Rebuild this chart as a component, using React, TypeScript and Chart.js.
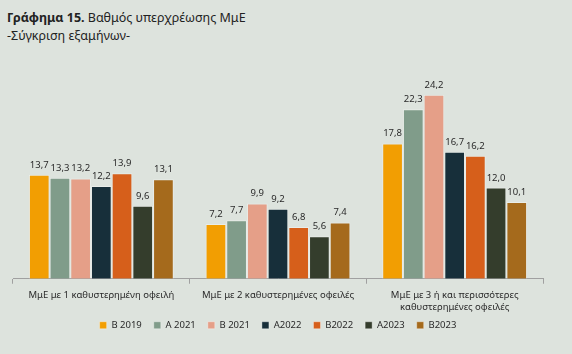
import React, { useEffect, useRef } from "react";
import { Chart, registerables } from "chart.js";

Chart.register(...registerables);

const categories: (string | string[])[] = [
  "ΜμΕ με 1 καθυστερημένη οφειλή",
  "ΜμΕ με 2 καθυστερημένες οφειλές",
  ["ΜμΕ με 3 ή και περισσότερες", "καθυστερημένες οφειλές"],
];

const seriesNames = ["Β 2019", "Α 2021", "Β 2021", "Α2022", "Β2022", "Α2023", "Β2023"];
const seriesColors = ["#f29e02", "#809c8a", "#e59f88", "#172f3a", "#d65f1b", "#343d2c", "#a56a1c"];

const b2019 = [13.7, 7.2, 17.8];
const a2021 = [13.3, 7.7, 22.3];
const b2021 = [13.2, 9.9, 24.2];
const a2022 = [12.2, 9.2, 16.7];
const b2022 = [13.9, 6.8, 16.2];
const a2023 = [9.6, 5.6, 12.0];
const b2023 = [13.1, 7.4, 10.1];

const seriesValues = [b2019, a2021, b2021, a2022, b2022, a2023, b2023];

const FONT = "'Noto Sans', sans-serif";
const BG = "#dde3dd";

const valueLabels = {
  id: "valueLabels",
  afterDatasetsDraw(chart: any) {
    const ctx = chart.ctx;
    ctx.save();
    ctx.font = `9.5px ${FONT}`;
    ctx.fillStyle = "#2a2a2a";
    ctx.textAlign = "center";
    ctx.textBaseline = "bottom";
    chart.data.datasets.forEach((ds: any, i: number) => {
      const meta = chart.getDatasetMeta(i);
      meta.data.forEach((bar: any, j: number) => {
        const v = ds.data[j] as number;
        ctx.fillText(v.toFixed(1).replace(".", ","), bar.x, bar.y - 5);
      });
    });
    ctx.restore();
  },
};

const LEGEND_SHIFT = 11;
const legendShift = {
  id: "legendShift",
  afterLayout(chart: any) {
    if (chart.legend) {
      chart.legend.top -= LEGEND_SHIFT;
      chart.legend.bottom -= LEGEND_SHIFT;
    }
  },
};

export default function App() {
  const ref = useRef<HTMLCanvasElement>(null);
  useEffect(() => {
    if (!ref.current) return;
    const chart = new Chart(ref.current, {
      type: "bar",
      data: {
        labels: categories,
        datasets: seriesNames.map((name, i) => ({
          label: name,
          data: seriesValues[i],
          backgroundColor: seriesColors[i],
          borderColor: "rgba(255,255,255,0.35)",
          borderWidth: 1,
          categoryPercentage: 0.82,
          barPercentage: 1.0,
        })),
      },
      options: {
        responsive: false,
        animation: false,
        devicePixelRatio: 1,
        layout: { padding: { top: 66, left: 13, right: 29, bottom: 3 } },
        plugins: {
          tooltip: { enabled: false },
          title: { display: false },
          legend: {
            position: "bottom",
            labels: {
              boxWidth: 7,
              boxHeight: 7,
              padding: 12,
              color: "#2a2a2a",
              font: { family: FONT, size: 9.5 },
            },
          },
        },
        scales: {
          x: {
            grid: { display: true, drawOnChartArea: false, tickLength: 5, color: "#a0a0a0", offset: true },
            border: { color: "#a0a0a0" },
            ticks: {
              color: "#2a2a2a",
              font: { family: FONT, size: 9.5, lineHeight: 1.25 },
              maxRotation: 0,
              padding: 6,
            },
          },
          y: { display: false, min: 0, max: 28 },
        },
      },
      plugins: [valueLabels, legendShift],
    });
    return () => chart.destroy();
  }, []);
  return (
    <div style={{ position: "fixed", left: 0, top: 0, width: 572, height: 354, background: BG, fontFamily: FONT }}>
      <div style={{ position: "absolute", left: 7, top: 9, fontSize: 12.5, color: "#222", whiteSpace: "nowrap" }}>
        <b>Γράφημα 15.</b> Βαθμός υπερχρέωσης ΜμΕ
      </div>
      <div style={{ position: "absolute", left: 7, top: 27, fontSize: 12.5, color: "#222", whiteSpace: "nowrap" }}>
        -Σύγκριση εξαμήνων-
      </div>
      <canvas ref={ref} width={572} height={354} style={{ position: "absolute", left: 0, top: 0 }} />
    </div>
  );
}
